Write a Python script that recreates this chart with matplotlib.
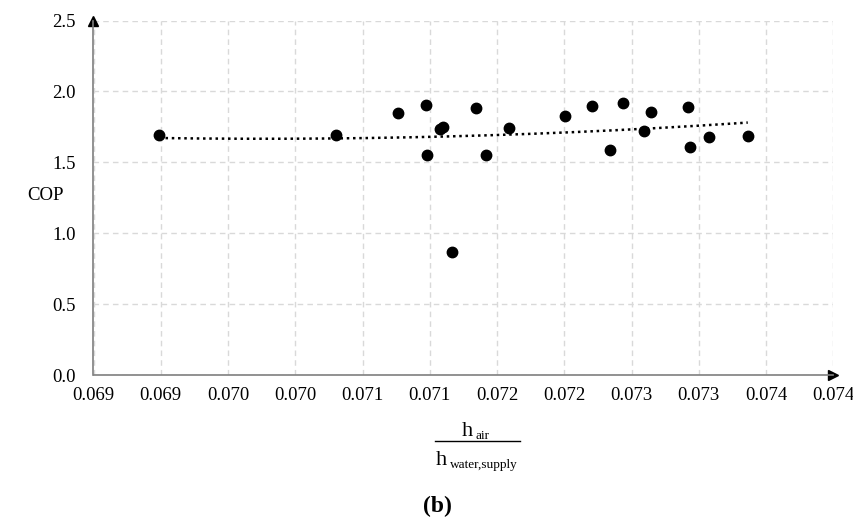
import numpy as np
import matplotlib
matplotlib.use("Agg")
import matplotlib.pyplot as plt
from matplotlib.lines import Line2D

plt.rcParams['font.family'] = ['Liberation Serif', 'DejaVu Serif']

# h_air / h_water,supply ratio vs COP
ratio = [0.069289, 0.070603, 0.071066, 0.071272, 0.071282, 0.071376, 0.071396,
         0.071465, 0.071642, 0.071716, 0.071889, 0.072306, 0.072504, 0.072640,
         0.072735, 0.072891, 0.072945, 0.073222, 0.073237, 0.073379, 0.073664]
cop = [1.693, 1.690, 1.848, 1.904, 1.554, 1.733, 1.751,
       0.865, 1.885, 1.551, 1.744, 1.829, 1.897, 1.589,
       1.918, 1.723, 1.857, 1.892, 1.610, 1.681, 1.686]

x_ticks = np.linspace(0.0688, 0.0743, 12)
x_labels = ["0.069", "0.069", "0.070", "0.070", "0.071", "0.071",
            "0.072", "0.072", "0.073", "0.073", "0.074", "0.074"]
y_ticks = [0.0, 0.5, 1.0, 1.5, 2.0, 2.5]
y_labels = ["0.0", "0.5", "1.0", "1.5", "2.0", "2.5"]

W, H = 854, 521
fig = plt.figure(figsize=(W / 100, H / 100), dpi=100)
ax = fig.add_axes([93.5 / W, 1 - 375 / H, (833.3 - 93.5) / W, (375 - 20.5) / H])

# polynomial trendline (order 2), like Excel
coef = np.polyfit(ratio, cop, 2)
xs = np.linspace(min(ratio), max(ratio), 200)
ax.plot(xs, np.polyval(coef, xs), color='black', lw=1.8,
        linestyle=(0, (1, 1.5)), zorder=3)

ax.plot(ratio, cop, 'o', color='black', markersize=7.5, zorder=4)

ax.set_xlim(x_ticks[0], x_ticks[-1])
ax.set_ylim(0, 2.5)
ax.set_xticks(x_ticks)
ax.set_xticklabels(x_labels)
ax.set_yticks(y_ticks)
ax.set_yticklabels(y_labels)
ax.tick_params(length=0, labelsize=13.5)
ax.tick_params(axis='x', pad=9)
ax.tick_params(axis='y', pad=13)

ax.grid(True, color='#d9d9d9', linestyle=(0, (4, 3)), lw=1)
ax.set_axisbelow(True)
for s in ['top', 'right']:
    ax.spines[s].set_visible(False)
for s in ['left', 'bottom']:
    ax.spines[s].set_color('#7f7f7f')
    ax.spines[s].set_linewidth(1.2)

# arrow heads on axes
ax.plot(0, 1, marker='^', color='black', markersize=7, transform=ax.transAxes, clip_on=False)
ax.plot(1, 0, marker='>', color='black', markersize=7, transform=ax.transAxes, clip_on=False)

fig.text(45 / W, 1 - 196 / H, "COP", ha='center', va='center', fontsize=13.5)

# fraction x label: h_air / h_water,supply
fig.text(462 / W, 1 - 436 / H, "h", ha='left', va='baseline', fontsize=16)
fig.text(476 / W, 1 - 439 / H, "air", ha='left', va='baseline', fontsize=9.5)
fig.add_artist(Line2D([435 / W, 520 / W], [1 - 441 / H, 1 - 441 / H],
                      color='black', lw=1))
fig.text(436 / W, 1 - 465 / H, "h", ha='left', va='baseline', fontsize=16)
fig.text(450 / W, 1 - 468 / H, "water,supply", ha='left', va='baseline', fontsize=9.5)

fig.text(437 / W, 1 - 506 / H, "(b)", ha='center', va='center', fontsize=17, fontweight='bold')

fig.savefig("out.png", dpi=100)
